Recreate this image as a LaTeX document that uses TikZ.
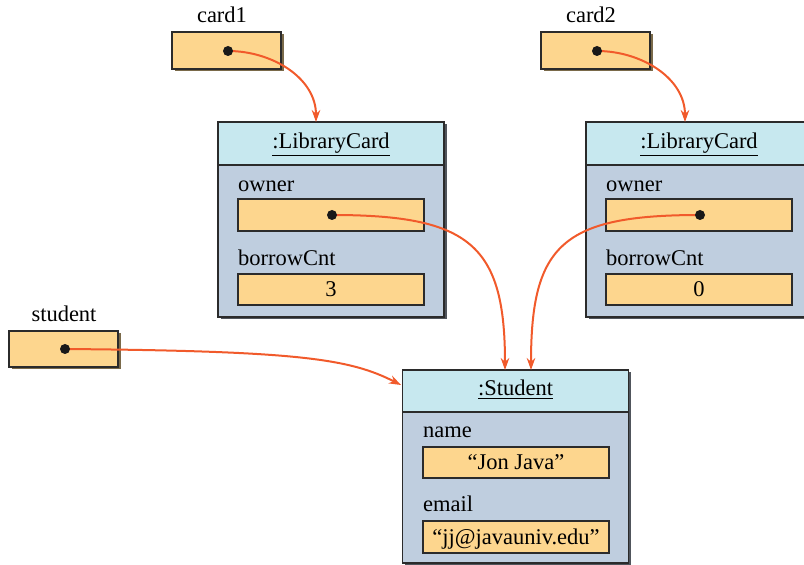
\documentclass[tikz,border=0pt]{standalone}
\usepackage{fontspec}
\setmainfont{Liberation Serif}
\usetikzlibrary{shadows,arrows.meta}
\definecolor{varfill}{HTML}{FDD68E}
\definecolor{hdrfill}{HTML}{C7E8EF}
\definecolor{bodyfill}{HTML}{BFCEDF}
\definecolor{arrowc}{HTML}{F15A2B}
\definecolor{edgec}{HTML}{2B2B2B}
\definecolor{vshadow}{HTML}{7A6A4A}
\definecolor{oshadow}{HTML}{50555C}
\begin{document}
\begin{tikzpicture}[x=1pt,y=1pt,
  font=\fontsize{22.5}{27}\selectfont,
  varbox/.style={draw=edgec, line width=1.2pt, fill=varfill, minimum width=109pt, minimum height=37pt, inner sep=0pt,
    drop shadow={shadow xshift=2.5pt, shadow yshift=-2.5pt, fill=vshadow, opacity=1}},
  field/.style={draw=edgec, line width=1.2pt, fill=varfill, minimum width=186pt, minimum height=31pt, inner sep=0pt,
    text height=15pt, text depth=0pt},
  objbox/.style={draw=edgec, line width=1.2pt, fill=bodyfill, minimum width=226pt, inner sep=0pt,
    drop shadow={shadow xshift=2.5pt, shadow yshift=-2.5pt, fill=oshadow, opacity=1}},
  header/.style={draw=edgec, line width=1.2pt, fill=hdrfill, minimum width=226pt, inner sep=0pt, anchor=north},
  dotc/.style={circle, fill=black!90, minimum size=10pt, inner sep=0pt},
  ref/.style={draw=arrowc, line width=2pt, -{Stealth[length=12pt,width=8.5pt]}},
  lbl/.style={anchor=base west, inner sep=0pt},
  vlbl/.style={anchor=base, inner sep=0pt},
]
\useasboundingbox (0,0) rectangle (804,565);
\clip (0,0) rectangle (804,565);

% variable boxes
\node[varbox] (card1) at (226.5,514.5) {};
\node[vlbl] (card1l) at (222,542) {card1};
\node[varbox] (card2) at (595.5,514.5) {};
\node[vlbl] (card2l) at (591,542) {card2};
\node[varbox, minimum height=36pt] (student) at (63.5,216) {};
\node[vlbl] (studentl) at (64,243) {student};

% LibraryCard 1
\node[objbox, minimum height=195pt] (lc1) at (331,345.5) {};
\node[header, minimum height=43pt] (lc1h) at (lc1.north) {};
\node[vlbl] (lc1t) at (331,416) {\underline{:LibraryCard}};
\node[lbl] (lc1owl) at (238,373) {owner};
\node[field, minimum height=32pt] (lc1ow) at (331,350) {};
\node[lbl] (lc1bcl) at (238,299) {borrowCnt};
\node[field] (lc1bc) at (331,275.5) {3};

% LibraryCard 2
\node[objbox, minimum height=195pt] (lc2) at (699,345.5) {};
\node[header, minimum height=43pt] (lc2h) at (lc2.north) {};
\node[vlbl] (lc2t) at (699,416) {\underline{:LibraryCard}};
\node[lbl] (lc2owl) at (606,373) {owner};
\node[field, minimum height=32pt] (lc2ow) at (699,350) {};
\node[lbl] (lc2bcl) at (606,299) {borrowCnt};
\node[field] (lc2bc) at (699,275.5) {0};

% Student
\node[objbox, minimum height=193pt] (st) at (515.5,98.5) {};
\node[header, minimum height=42pt] (sth) at (st.north) {};
\node[vlbl] (stt) at (515.5,169) {\underline{:Student}};
\node[lbl] (stnl) at (423,127) {name};
\node[field] (stn) at (516,102.5) {“Jon Java”};
\node[lbl] (stel) at (423,53) {email};
\node[field, minimum height=32pt] (ste) at (516,28) {“jj@javauniv.edu”};

% reference points
\coordinate (p1) at (228,514);
\coordinate (p2) at (597,514);
\coordinate (p3) at (65,216);
\coordinate (p4) at (332,350);
\coordinate (p5) at (700,350);
\coordinate (t1) at (316,443);
\coordinate (t2) at (685,443);
\coordinate (t3) at (401,180);
\coordinate (t4) at (505,195);
\coordinate (t5) at (531,195);

% arrows
\draw[ref] (p1) to[out=0,in=90] (t1);
\draw[ref] (p2) to[out=0,in=90] (t2);
\draw[ref] (p3) .. controls (300,214) and (350,206) .. (t3);
\draw[ref] (p4) .. controls (470,350) and (505,320) .. (t4);
\draw[ref] (p5) .. controls (562,350) and (531,320) .. (t5);

% dots
\node[dotc] (d1) at (p1) {};
\node[dotc] (d2) at (p2) {};
\node[dotc] (d3) at (p3) {};
\node[dotc] (d4) at (p4) {};
\node[dotc] (d5) at (p5) {};
\end{tikzpicture}
\end{document}
